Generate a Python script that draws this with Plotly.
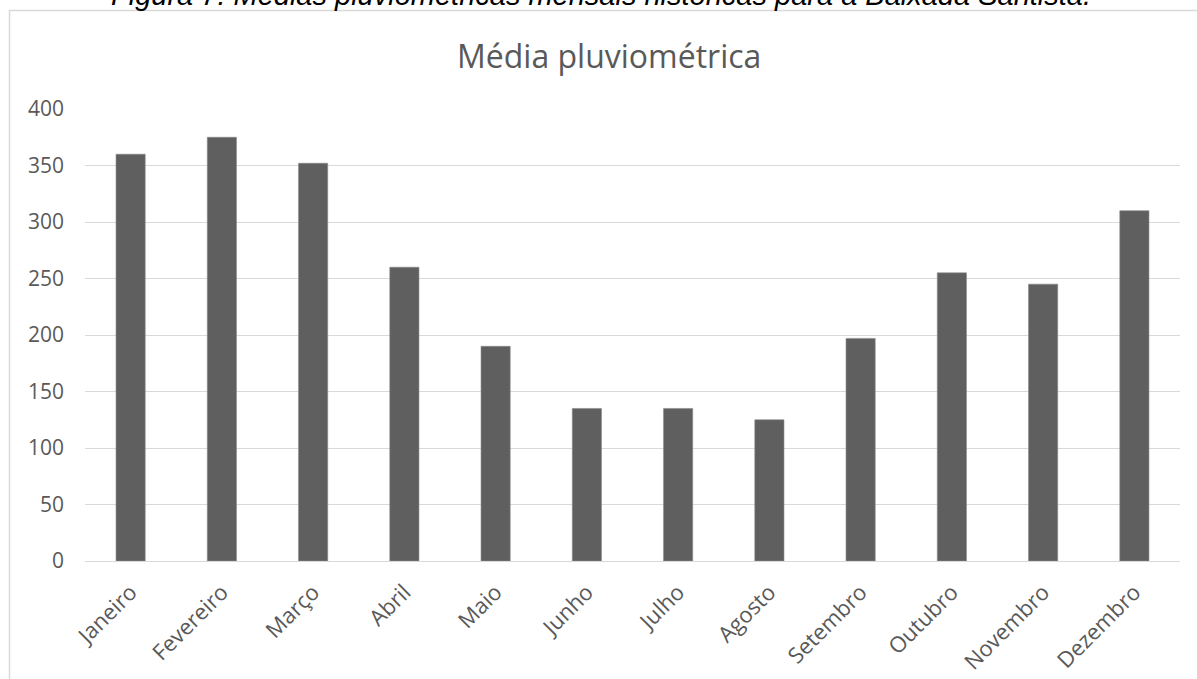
import plotly.graph_objects as go

# Monthly historical rainfall averages (mm)
meses = ["Janeiro", "Fevereiro", "Março", "Abril", "Maio", "Junho",
         "Julho", "Agosto", "Setembro", "Outubro", "Novembro", "Dezembro"]
media_mm = [360, 375, 352, 260, 190, 135, 135, 125, 197, 255, 245, 310]
y_ticks = [0, 50, 100, 150, 200, 250, 300, 350, 400]

W, H = 1197, 679
ML, MR, MT, MB = 85, 17, 109, 118
PW, PH = W - ML - MR, H - MT - MB


def px_x(px):
    return (px - ML) / PW


def px_y(py):
    return (H - MB - py) / PH


TEXT = "#595959"
GRID = "#d9d9d9"
FONT = "Open Sans"

fig = go.Figure(
    go.Bar(
        x=meses,
        y=media_mm,
        marker=dict(color="#5f5f5f", line=dict(width=0.6, color="#8a8a8a")),
        hoverinfo="x+y",
    )
)

fig.update_layout(
    width=W,
    height=H,
    margin=dict(l=ML, r=MR, t=MT, b=MB),
    paper_bgcolor="white",
    plot_bgcolor="white",
    bargap=0.68,
    showlegend=False,
    font=dict(family=FONT, color=TEXT),
)

fig.update_xaxes(
    tickangle=-45,
    tickfont=dict(family=FONT, size=22, color=TEXT),
    showgrid=False,
    showline=False,
    ticks="",
    ticklabelstandoff=13,
    automargin=False,
)
fig.update_yaxes(
    range=[0, 400],
    tickvals=y_ticks,
    tickfont=dict(family=FONT, size=21, color=TEXT),
    showgrid=True,
    gridcolor=GRID,
    gridwidth=1.3,
    zeroline=True,
    zerolinecolor=GRID,
    zerolinewidth=1.3,
    showline=False,
    ticks="",
    ticklabelstandoff=20,
    automargin=False,
)

# Chart title
fig.add_annotation(
    text="Média pluviométrica",
    xref="paper", yref="paper",
    x=px_x(609), y=px_y(56),
    xanchor="center", yanchor="middle",
    showarrow=False,
    font=dict(family=FONT, size=32, color=TEXT),
)

# Figure caption above the chart frame
fig.add_annotation(
    text="<i>Figura 7: Médias pluviométricas mensais históricas para a Baixada Santista.</i>",
    xref="paper", yref="paper",
    x=px_x(601), y=px_y(13),
    xanchor="center", yanchor="bottom",
    showarrow=False,
    font=dict(family="Liberation Sans", size=29, color="black"),
)

# Chart frame
fig.add_shape(
    type="rect",
    xref="paper", yref="paper",
    x0=px_x(9.5), x1=px_x(1210),
    y0=px_y(700), y1=px_y(10.5),
    line=dict(color=GRID, width=1.5),
    fillcolor="rgba(0,0,0,0)",
    layer="below",
)

fig.write_html("out.html")
